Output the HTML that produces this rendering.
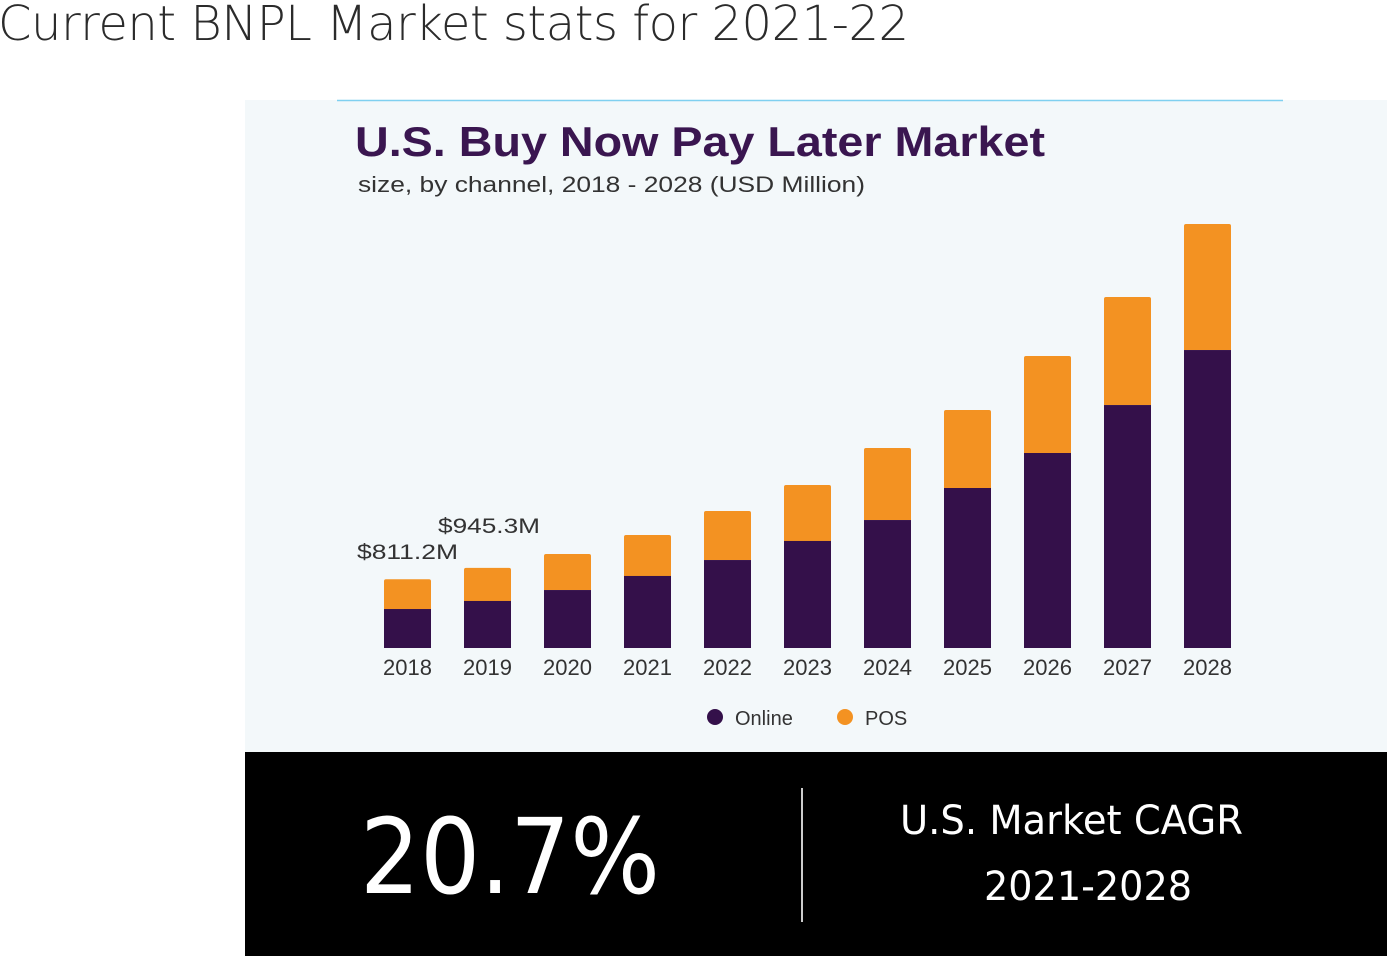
<!DOCTYPE html>
<html><head><meta charset="utf-8"><style>
html,body{margin:0;padding:0;background:#fff;width:1400px;height:972px;overflow:hidden;font-family:"Liberation Sans",sans-serif}
#h{position:absolute;left:-2px;top:-4px;font-size:48px;color:#2b2b2b;font-family:"DejaVu Sans","Liberation Sans",sans-serif;font-weight:300;letter-spacing:-0.5px;margin:0}
#panel{position:absolute;left:245px;top:100px;width:1142px;height:652px;background:#f3f8fa}
#bar{position:absolute;left:245px;top:752px;width:1142px;height:204px;background:#000}
</style></head><body>
<h1 id="h">Current BNPL Market stats for 2021-22</h1>
<div id="panel"></div>
<svg width="1400" height="972" style="position:absolute;left:0;top:0">
<line x1="337" y1="100.5" x2="1283" y2="100.5" stroke="#7fd0f0" stroke-width="1.5"/>
<text x="355" y="156" font-size="42" font-weight="bold" fill="#3a1650" textLength="690" lengthAdjust="spacingAndGlyphs">U.S. Buy Now Pay Later Market</text>
<text x="358" y="192" font-size="22" fill="#333" textLength="507" lengthAdjust="spacingAndGlyphs">size, by channel, 2018 - 2028 (USD Million)</text>
<g id="bars"></g>
<text x="357" y="559" font-size="21" fill="#333" textLength="101" lengthAdjust="spacingAndGlyphs">$811.2M</text>
<text x="438" y="533" font-size="21" fill="#333" textLength="102" lengthAdjust="spacingAndGlyphs">$945.3M</text>
<circle cx="715" cy="717" r="8" fill="#34104a"/>
<text x="735" y="725" font-size="20" fill="#333">Online</text>
<circle cx="845" cy="717" r="8" fill="#f39222"/>
<text x="865" y="725" font-size="20" fill="#333">POS</text>
</svg>
<div id="bar"></div>
<svg width="1400" height="972" style="position:absolute;left:0;top:0">
<text x="360" y="893" font-size="104" fill="#fff" font-family="DejaVu Sans, sans-serif" textLength="300" lengthAdjust="spacingAndGlyphs">20.7%</text>
<line x1="802" y1="788" x2="802" y2="922" stroke="#ccc" stroke-width="2"/>
<text x="900" y="834" font-size="40" fill="#fff" font-family="DejaVu Sans, sans-serif" textLength="343" lengthAdjust="spacingAndGlyphs">U.S. Market CAGR</text>
<text x="984" y="900" font-size="40" fill="#fff" font-family="DejaVu Sans, sans-serif" textLength="208" lengthAdjust="spacingAndGlyphs">2021-2028</text>
</svg>
<script>
const years=["2018","2019","2020","2021","2022","2023","2024","2025","2026","2027","2028"];
const online=[460,555,684,850,1038,1263,1510,1888,2301,2867,3516];
const pos=[351,390,425,484,578,661,850,920,1145,1275,1487];
const NS="http://www.w3.org/2000/svg";
const base=648, perPx=11.8;
function y(v){return base-v/perPx;}
function x(i){return 384+i*80;}
const g=document.getElementById('bars');
years.forEach((yr,i)=>{
  const tot=online[i]+pos[i];
  const p=document.createElementNS(NS,'path');
  const x0=x(i),w=47,t=y(tot),m=y(online[i]),r=2;
  p.setAttribute('d',`M${x0},${m}V${t+r}Q${x0},${t} ${x0+r},${t}H${x0+w-r}Q${x0+w},${t} ${x0+w},${t+r}V${m}Z`);
  p.setAttribute('fill','#f39222');
  
  
  g.appendChild(p);
  const o=document.createElementNS(NS,'rect');
  o.setAttribute('x',x0);o.setAttribute('y',m);o.setAttribute('width',w);o.setAttribute('height',base-m);
  o.setAttribute('fill','#34104a');
  
  
  g.appendChild(o);
  const tx=document.createElementNS(NS,'text');
  tx.setAttribute('x',x0+w/2);tx.setAttribute('y',675);tx.setAttribute('text-anchor','middle');
  tx.setAttribute('font-size','22');tx.setAttribute('fill','#333');
  tx.textContent=yr;
  
  
  g.appendChild(tx);
});
</script>
</body></html>
